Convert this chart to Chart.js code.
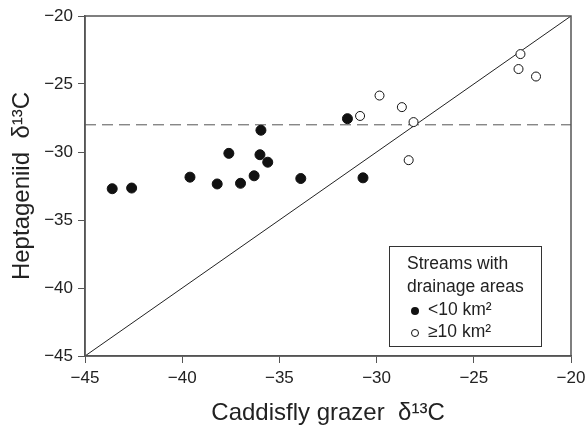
<!DOCTYPE html>
<html lang="en">
<head>
    <meta charset="UTF-8">
    <title>Heptageniid vs Caddisfly grazer</title>
    <script src="https://cdn.jsdelivr.net/npm/chart.js"></script>
    <style>
        html, body { margin: 0; padding: 0; background: #fff; }
        #wrap { width: 585px; height: 427px; }
    </style>
</head>
<body>
    <div id="wrap"><canvas id="isoChart" width="585" height="427"></canvas></div>

    <script>
        // Data
        const smallX = [-43.6, -42.6, -39.6, -38.2, -37.6, -37.0, -36.3, -36.0, -35.95, -35.6, -33.9, -31.5, -30.7];
        const smallY = [-32.7, -32.65, -31.85, -32.35, -30.1, -32.3, -31.75, -30.2, -28.4, -30.75, -31.95, -27.55, -31.9];
        const largeX = [-30.85, -29.85, -28.7, -28.1, -28.35, -22.6, -22.7, -21.8];
        const largeY = [-27.35, -25.85, -26.7, -27.8, -30.6, -22.8, -23.9, -24.45];
        const axisTicks = [-45, -40, -35, -30, -25, -20];
        const refLevel = -28;
        const legendTitle = ['Streams with', 'drainage areas'];
        const legendLabels = ['<10 km\u00B2', '\u226510 km\u00B2'];

        const FONT = '"Liberation Sans", Arial, sans-serif';
        const toPts = (xs, ys) => xs.map((x, i) => ({ x: x, y: ys[i] }));
        const minus = v => String(v).replace('-', '\u2212');

        // box around plot + legend drawn inside the plot
        const framePlugin = {
            id: 'frame',
            afterDraw(chart) {
                const ctx = chart.ctx;
                const a = chart.chartArea;
                ctx.save();
                ctx.strokeStyle = '#555';
                ctx.lineWidth = 1.5;
                ctx.strokeRect(a.left, a.top, a.right - a.left, a.bottom - a.top);

                // legend box
                const lx = 389, ly = 246, lw = 152, lh = 100;
                ctx.fillStyle = '#fff';
                ctx.fillRect(lx, ly, lw, lh);
                ctx.strokeStyle = '#333';
                ctx.lineWidth = 1;
                ctx.strokeRect(lx + 0.5, ly + 0.5, lw, lh);
                ctx.fillStyle = '#222';
                ctx.font = '17.5px ' + FONT;
                ctx.textBaseline = 'middle';
                ctx.textAlign = 'left';
                ctx.fillText(legendTitle[0], 407, 264);
                ctx.fillText(legendTitle[1], 407, 287);
                ctx.fillText(legendLabels[0], 428, 310);
                ctx.fillText(legendLabels[1], 428, 332);
                ctx.beginPath();
                ctx.arc(415, 311, 4, 0, Math.PI * 2);
                ctx.fillStyle = '#111';
                ctx.fill();
                ctx.beginPath();
                ctx.arc(415, 333, 3.5, 0, Math.PI * 2);
                ctx.fillStyle = '#fff';
                ctx.fill();
                ctx.strokeStyle = '#111';
                ctx.stroke();
                ctx.restore();
            }
        };

        const ctx = document.getElementById('isoChart').getContext('2d');
        new Chart(ctx, {
            type: 'scatter',
            data: {
                datasets: [
                    {
                        type: 'line',
                        data: [{ x: -45, y: refLevel }, { x: -20, y: refLevel }],
                        borderColor: '#555',
                        borderWidth: 1,
                        borderDash: [11, 6],
                        pointRadius: 0,
                        order: 3
                    },
                    {
                        type: 'line',
                        data: [{ x: -45, y: -45 }, { x: -20, y: -20 }],
                        borderColor: '#222',
                        borderWidth: 1,
                        pointRadius: 0,
                        order: 2
                    },
                    {
                        label: legendLabels[0],
                        data: toPts(smallX, smallY),
                        backgroundColor: '#111',
                        borderColor: '#111',
                        pointRadius: 5,
                        order: 1
                    },
                    {
                        label: legendLabels[1],
                        data: toPts(largeX, largeY),
                        backgroundColor: '#fff',
                        borderColor: '#111',
                        borderWidth: 1,
                        pointRadius: 4.5,
                        order: 1
                    }
                ]
            },
            options: {
                responsive: false,
                animation: false,
                layout: { padding: { left: 0, right: 14, top: 16, bottom: 0 } },
                plugins: {
                    legend: { display: false },
                    tooltip: { enabled: false }
                },
                scales: {
                    x: {
                        type: 'linear',
                        min: -45,
                        max: -20,
                        afterBuildTicks: s => { s.ticks = axisTicks.map(v => ({ value: v })); },
                        afterFit: s => { s.height = 71; s.paddingLeft = 0; s.paddingRight = 0; },
                        border: { display: true, color: '#555', width: 1.5 },
                        grid: { drawOnChartArea: false, drawTicks: true, tickLength: 7, color: '#555' },
                        ticks: {
                            color: '#222',
                            padding: 5,
                            font: { family: FONT, size: 17 },
                            callback: v => minus(v)
                        },
                        title: {
                            display: true,
                            text: 'Caddisfly grazer  \u03B4\u00B9\u00B3C',
                            color: '#222',
                            font: { family: FONT, size: 24 },
                            padding: { top: 0, bottom: -1 }
                        }
                    },
                    y: {
                        type: 'linear',
                        min: -45,
                        max: -20,
                        afterBuildTicks: s => { s.ticks = axisTicks.map(v => ({ value: v })); },
                        afterFit: s => { s.width = 85; s.paddingTop = 0; s.paddingBottom = 0; },
                        border: { display: true, color: '#555', width: 1.5 },
                        grid: { drawOnChartArea: false, drawTicks: true, tickLength: 7, color: '#555' },
                        ticks: {
                            color: '#222',
                            padding: 5,
                            font: { family: FONT, size: 17 },
                            callback: v => minus(v)
                        },
                        title: {
                            display: true,
                            text: 'Heptageniid  \u03B4\u00B9\u00B3C',
                            color: '#222',
                            font: { family: FONT, size: 24 },
                            padding: { top: 8, bottom: 0 }
                        }
                    }
                }
            },
            plugins: [framePlugin]
        });
    </script>
</body>
</html>
